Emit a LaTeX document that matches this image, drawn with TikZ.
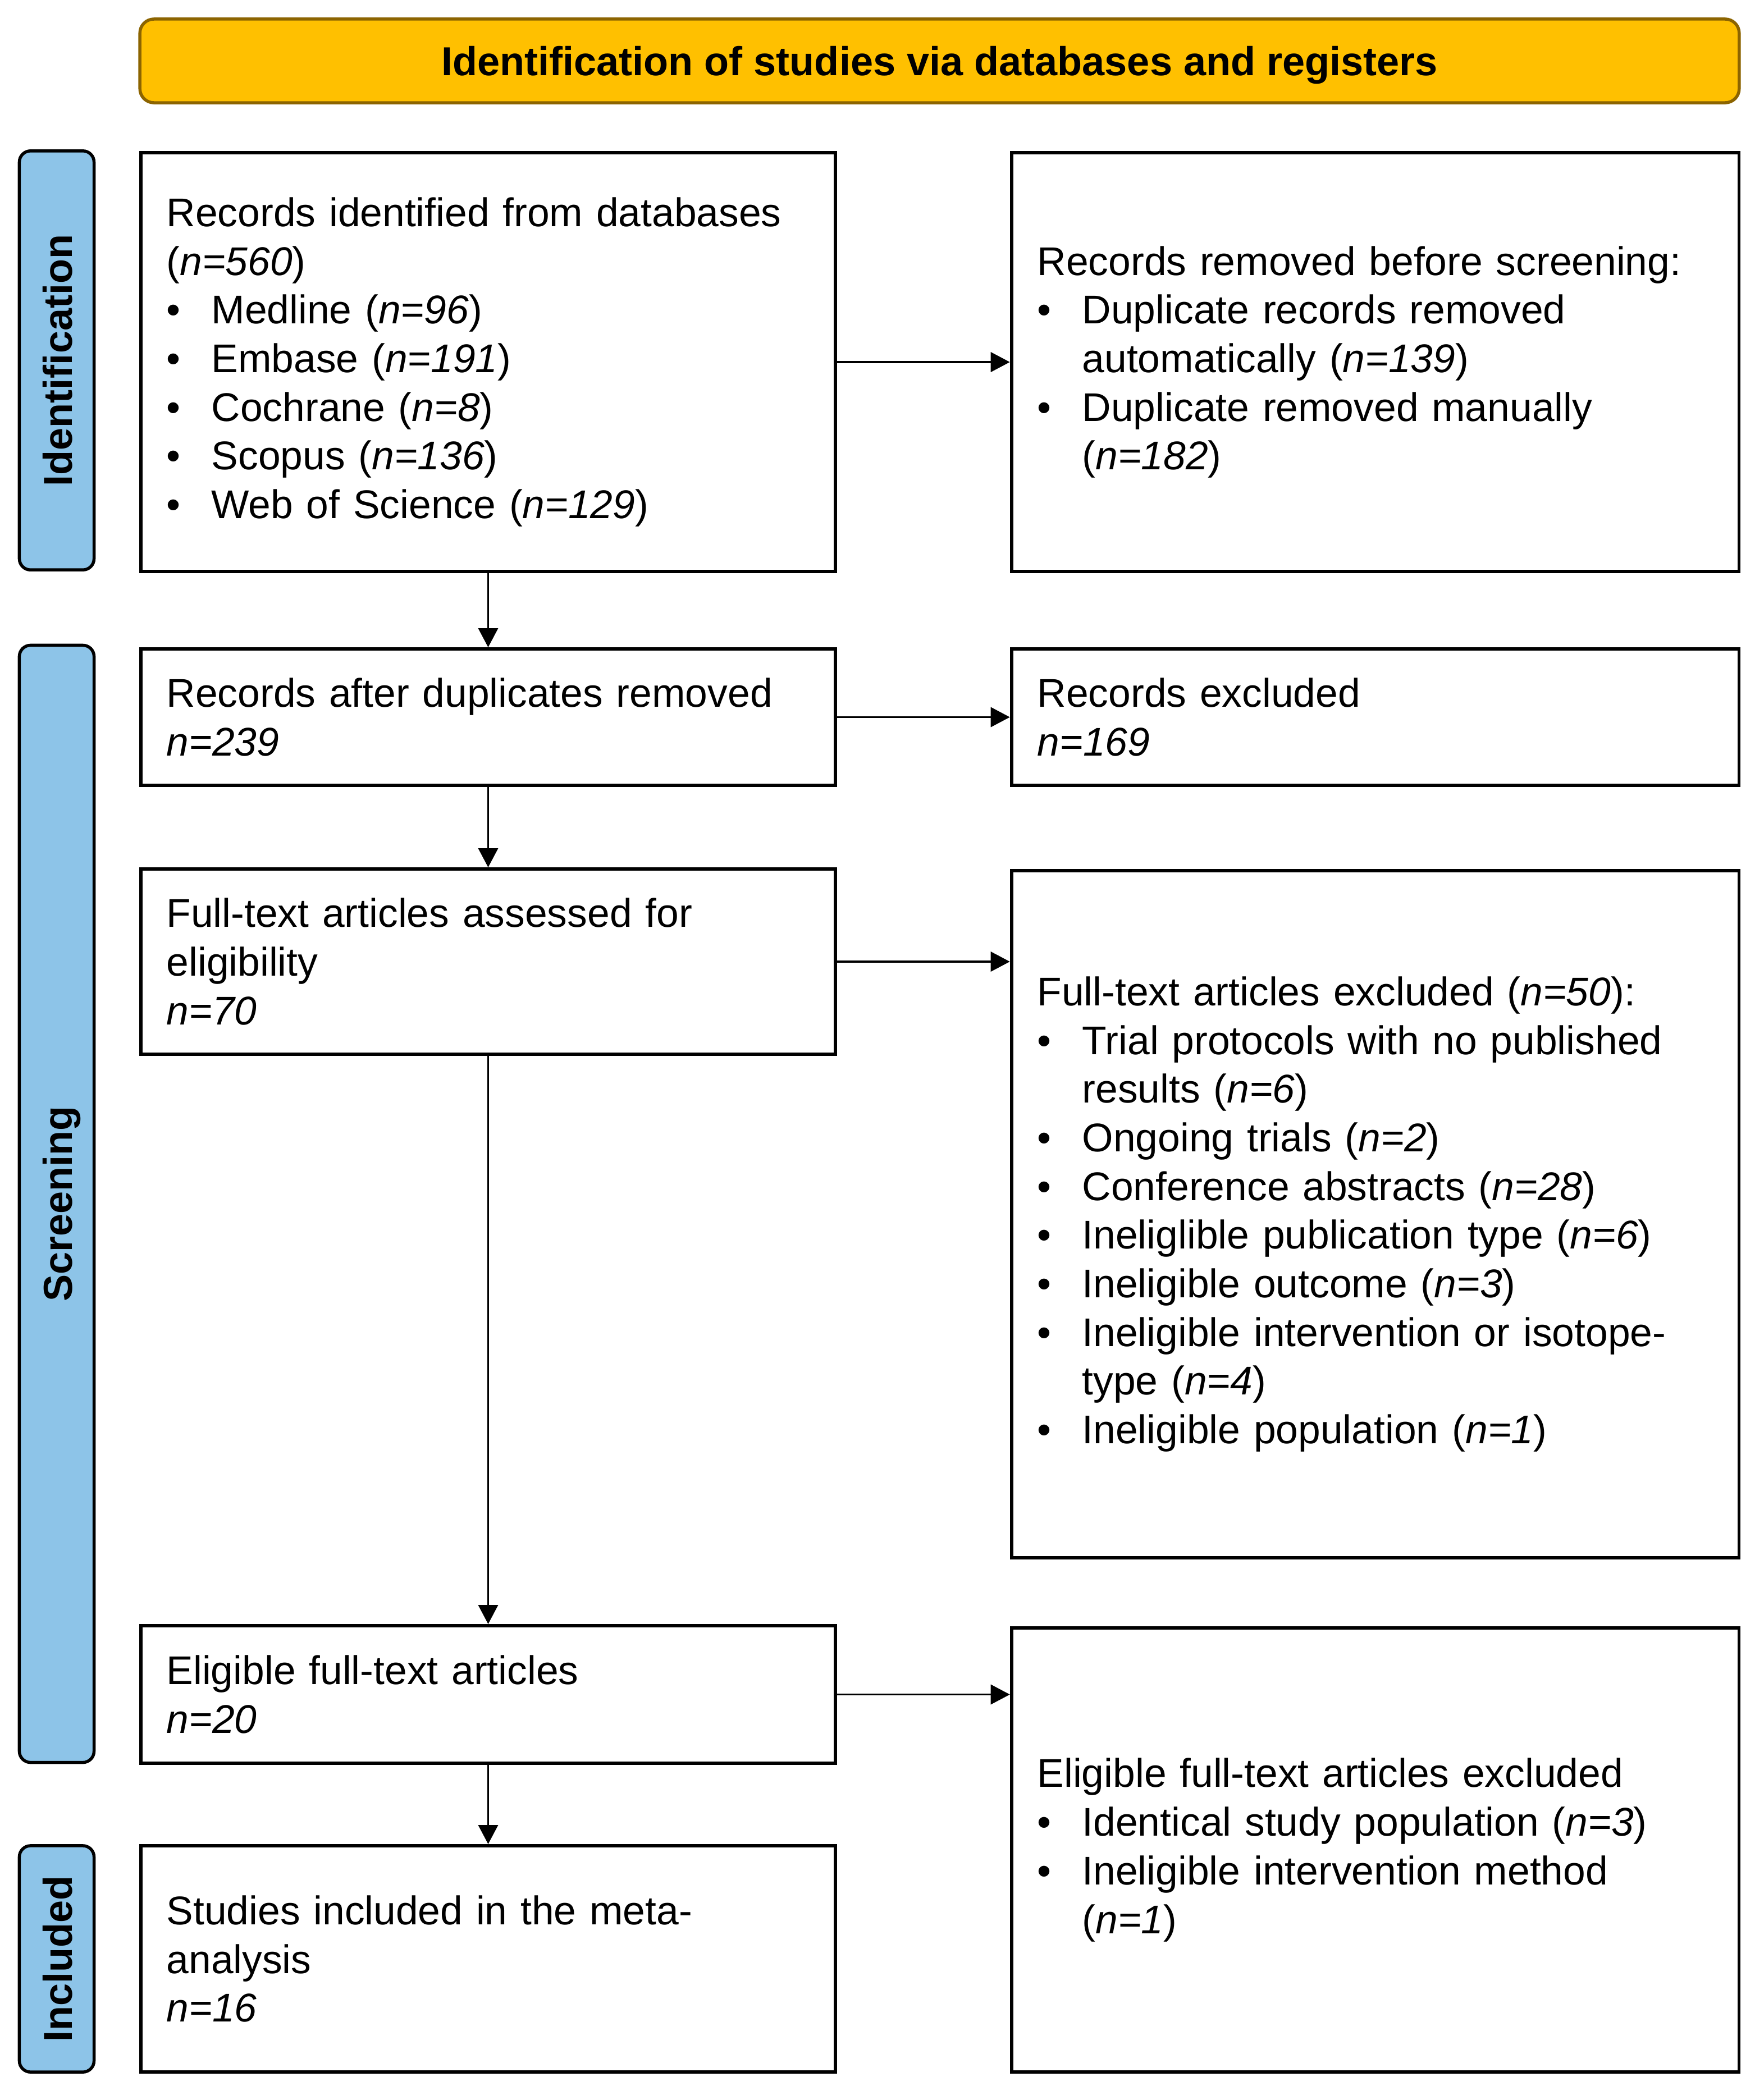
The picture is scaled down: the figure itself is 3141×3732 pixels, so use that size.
\documentclass[tikz,border=0pt]{standalone}
\usepackage{fontspec}
\usepackage{graphicx}
\setmainfont{Liberation Sans}
\usetikzlibrary{arrows.meta,calc}
\definecolor{bannerfill}{HTML}{FFC000}
\definecolor{bannerdraw}{HTML}{8C6400}
\definecolor{phasefill}{HTML}{8DC4E8}
\newcommand{\bul}{\makebox[0.8cm][l]{•}}
\newcommand{\ind}{\hspace*{0.8cm}}
\newcommand{\nn}[1]{\textit{n=#1}}
\begin{document}
\begin{tikzpicture}[x=0.01cm,y=-0.01cm,
 every node/.style={font=\fontsize{20.3pt}{24.65pt}\selectfont},
 banner/.style={draw=bannerdraw, fill=bannerfill, line width=0.055cm, rounded corners=0.25cm,
   minimum width=28.47cm, minimum height=1.49cm, inner sep=0pt, text height=0.6cm, text depth=0.08cm,
   font=\fontsize{20.5pt}{24.65pt}\selectfont\bfseries},
 phase/.style={draw=black, fill=phasefill, line width=0.055cm, rounded corners=0.2cm,
   rotate=90, minimum height=1.33cm, inner sep=0pt, text height=0.6cm, text depth=0.06cm,
   font=\fontsize{20.5pt}{24.65pt}\selectfont\bfseries},
 lbox/.style={draw=black, line width=0.058cm, inner xsep=0.46cm, inner ysep=0pt,
   text width=11.45cm, align=left},
 rbox/.style={draw=black, line width=0.058cm, inner xsep=0.46cm, inner ysep=0pt,
   text width=12.03cm, align=left},
 arr/.style={line width=0.035cm, -{Triangle[length=0.34cm,width=0.35cm]}}
]
\useasboundingbox (0,0) rectangle (3141,3732);

\node[banner] (banner) at (1673.5,108.5) {Identification of studies via databases and registers};

\node[phase, minimum width=7.46cm] (idlab) at (101,642) {Identification};
\node[phase, minimum width=19.89cm] (sclab) at (101,2144.5) {Screening};
\node[phase, minimum width=4.03cm] (inlab) at (101,3489.5) {Included};

\node[lbox, minimum height=7.46cm] (box1) at (869.5,645) {Records identified from databases\\
(\nn{560})\\
\bul Medline (\nn{96})\\
\bul Embase (\nn{191})\\
\bul Cochrane (\nn{8})\\
\bul Scopus (\nn{136})\\
\bul Web of Science (\nn{129})};

\node[rbox, minimum height=7.46cm] (rbox1) at (2449.5,645) {Records removed before screening:\\
\bul Duplicate records removed\\
\ind automatically (\nn{139})\\
\bul Duplicate removed manually\\
\ind (\nn{182})};

\node[lbox, minimum height=2.43cm] (box2) at (869.5,1277.5) {Records after duplicates removed\\
\nn{239}};

\node[rbox, minimum height=2.43cm] (rbox2) at (2449.5,1277.5) {Records excluded\\
\nn{169}};

\node[lbox, minimum height=3.30cm] (box3) at (869.5,1713) {Full-text articles assessed for\\
eligibility\\
\nn{70}};

\node[rbox, minimum height=12.24cm] (rbox3) at (2449.5,2163) {Full-text articles excluded (\nn{50}):\\
\bul Trial protocols with no published\\
\ind results (\nn{6})\\
\bul Ongoing trials (\nn{2})\\
\bul Conference abstracts (\nn{28})\\
\bul Ineliglible publication type (\nn{6})\\
\bul Ineligible outcome (\nn{3})\\
\bul Ineligible intervention or isotope-\\
\ind type (\nn{4})\\
\bul Ineligible population (\nn{1})};

\node[lbox, minimum height=2.45cm] (box4) at (869.5,3018.5) {Eligible full-text articles\\
\nn{20}};

\node[rbox, minimum height=7.91cm] (rbox4) at (2449.5,3295.5) {Eligible full-text articles excluded\\
\bul Identical study population (\nn{3})\\
\bul Ineligible intervention method\\
\ind (\nn{1})};

\node[lbox, minimum height=4.03cm] (box5) at (869.5,3489.5) {Studies included in the meta-\\
analysis\\
\nn{16}};

\draw[arr] (box1.south) -- (box2.north);
\draw[arr] (box2.south) -- (box3.north);
\draw[arr] (box3.south) -- (box4.north);
\draw[arr] (box4.south) -- (box5.north);

\draw[arr] (box1.east) -- (box1.east -| rbox1.west);
\draw[arr] (box2.east) -- (box2.east -| rbox2.west);
\draw[arr] (box3.east) -- (box3.east -| rbox3.west);
\draw[arr] (box4.east) -- (box4.east -| rbox4.west);
\end{tikzpicture}
\end{document}
